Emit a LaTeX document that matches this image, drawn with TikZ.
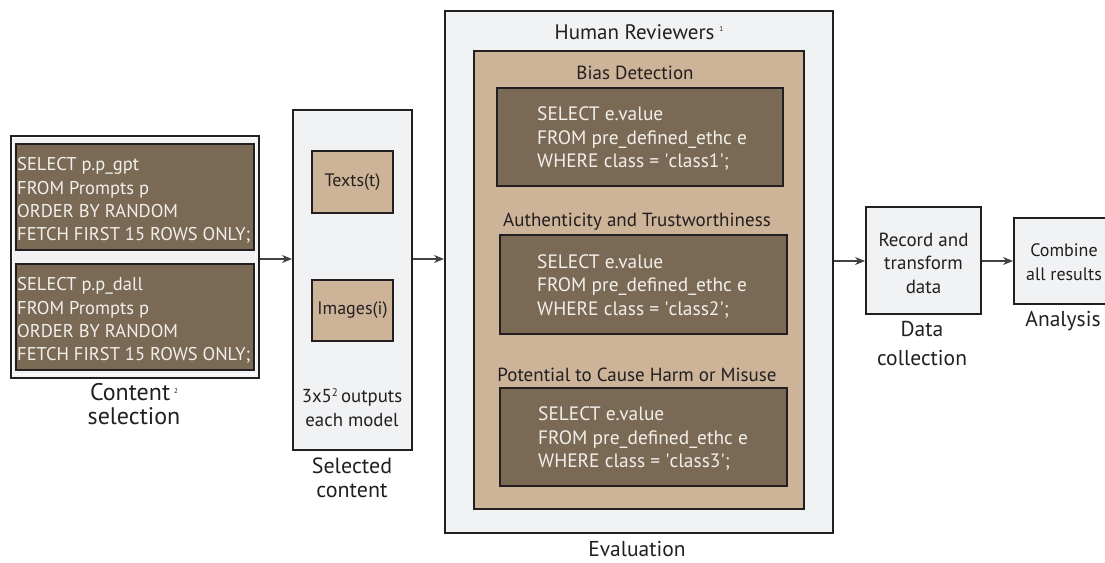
\documentclass[tikz,border=0pt]{standalone}
\usepackage{fontspec}
\setmainfont{PT Sans}
\usetikzlibrary{arrows.meta,positioning,calc}
\definecolor{lightbg}{HTML}{F1F2F4}
\definecolor{tan}{HTML}{CDB498}
\definecolor{darkbrown}{HTML}{7A6A55}
\definecolor{ink}{HTML}{231F20}
\definecolor{sqlink}{HTML}{F2EFEA}
\tikzset{
  x=1pt, y=-1pt,
  box/.style={draw=ink, line width=2pt, inner sep=0pt},
  lightbox/.style={box, fill=lightbg},
  tanbox/.style={box, fill=tan},
  sqlbox/.style={box, fill=darkbrown},
  sqltext/.style={text=sqlink, align=left, inner sep=0pt, font=\fontsize{18.5}{23.3}\selectfont},
  evsqltext/.style={sqltext, font=\fontsize{19.4}{23.5}\selectfont},
  boxtext/.style={text=ink, align=center, inner sep=0pt, font=\fontsize{18}{23.5}\selectfont},
  titletext/.style={text=ink, align=center, inner sep=0pt, font=\fontsize{19}{23}\selectfont},
  labeltext/.style={text=ink, align=center, inner sep=0pt, font=\fontsize{21.5}{24}\selectfont},
  conn/.style={draw=ink!85, line width=1.2pt, -{Stealth[length=10pt,width=8pt]}},
}
\newcommand{\rbox}[6]{\node[#1, minimum width=#4-#2, minimum height=#5-#3, anchor=north west] (#6) at (#2,#3) {};}
\newcommand{\sq}{\textquotesingle}
\begin{document}
\begin{tikzpicture}
\useasboundingbox (0,0) rectangle (1105,562);
% Content selection
\rbox{lightbox}{10}{135}{258}{377}{cs}
\draw[white, line width=1pt] (12.5,137.5) rectangle (255.5,374.5);
\rbox{sqlbox}{15}{143}{253}{249}{q1}
\rbox{sqlbox}{15}{263}{253}{369}{q2}
\node[sqltext, anchor=west] (q1t) at ([xshift=2pt,yshift=-3.5pt]q1.west) {SELECT p.p\_gpt\\FROM Prompts p\\ORDER BY RANDOM\\FETCH FIRST 15 ROWS ONLY;};
\node[sqltext, anchor=west] (q2t) at ([xshift=2pt,yshift=-3.5pt]q2.west) {SELECT p.p\_dall\\FROM Prompts p\\ORDER BY RANDOM\\FETCH FIRST 15 ROWS ONLY;};
\node[labeltext, font=\fontsize{24}{24}\selectfont, anchor=north] (csl) at (134,383) {Content\,\raisebox{0.6ex}{\fontsize{7}{7}\selectfont 2}\\selection};
% Selected content
\rbox{lightbox}{292}{109}{411}{449}{sc}
\rbox{tanbox}{311}{150}{392}{212}{tx}
\rbox{tanbox}{311}{279}{392}{340}{im}
\node[boxtext] at (tx.center) {Texts(t)};
\node[boxtext] at (im.center) {Images(i)};
\node[boxtext, font=\fontsize{18.8}{23.5}\selectfont, anchor=north] (scn) at (352,388) {3x5\raisebox{0.7ex}{\fontsize{11}{11}\selectfont 2}\,outputs\\each model};
\node[labeltext, font=\fontsize{22}{24}\selectfont, anchor=north] (scl) at (352,458) {Selected\\content};
% Evaluation
\rbox{lightbox}{444}{10}{832}{532}{ev}
\rbox{tanbox}{473}{50}{803}{508}{hr}
\node[titletext, font=\fontsize{21}{23}\selectfont] (hrt) at (639,32) {Human Reviewers\hspace{5pt}\raisebox{0.7ex}{\fontsize{7}{7}\selectfont 1}};
\node[titletext] (bdt) at (635,73) {Bias Detection};
\rbox{sqlbox}{496}{87}{782}{185}{e1}
\node[evsqltext, anchor=west] at ([xshift=41pt,yshift=-2pt]e1.west) {SELECT e.value\\FROM pre\_defined\_ethc e\\WHERE class = \sq class1\sq;};
\node[titletext] (att) at (637,222) {Authenticity and Trustworthiness};
\rbox{sqlbox}{499}{234}{786}{333}{e2}
\node[evsqltext, anchor=west] at ([xshift=38pt,yshift=-2pt]e2.west) {SELECT e.value\\FROM pre\_defined\_ethc e\\WHERE class = \sq class2\sq;};
\node[titletext] (pht) at (637,375) {Potential to Cause Harm or Misuse};
\rbox{sqlbox}{499}{387}{786}{485}{e3}
\node[evsqltext, anchor=west] at ([xshift=39pt,yshift=-2pt]e3.west) {SELECT e.value\\FROM pre\_defined\_ethc e\\WHERE class = \sq class3\sq;};
\node[labeltext] (evl) at (637,549) {Evaluation};
% Data collection
\rbox{lightbox}{865}{206}{980}{313}{rt}
\node[boxtext, font=\fontsize{19}{23.5}\selectfont] at ([yshift=-2.5pt]rt.center) {Record and\\transform\\data};
\node[labeltext, anchor=north] (dcl) at (922,321) {Data\\[5pt]collection};
% Analysis
\rbox{lightbox}{1013}{217}{1113}{303}{cb}
\node[boxtext] at ([yshift=-1pt]cb.center) {Combine\\all results};
\node[labeltext] (anl) at (1063,321) {Analysis};
% connectors
\draw[conn] (cs.east |- 0,259) -- (sc.west |- 0,259);
\draw[conn] (sc.east |- 0,259) -- (ev.west |- 0,259);
\draw[conn] (ev.east |- 0,261) -- (rt.west |- 0,261);
\draw[conn] (rt.east |- 0,261) -- (cb.west |- 0,261);
\end{tikzpicture}
\end{document}
